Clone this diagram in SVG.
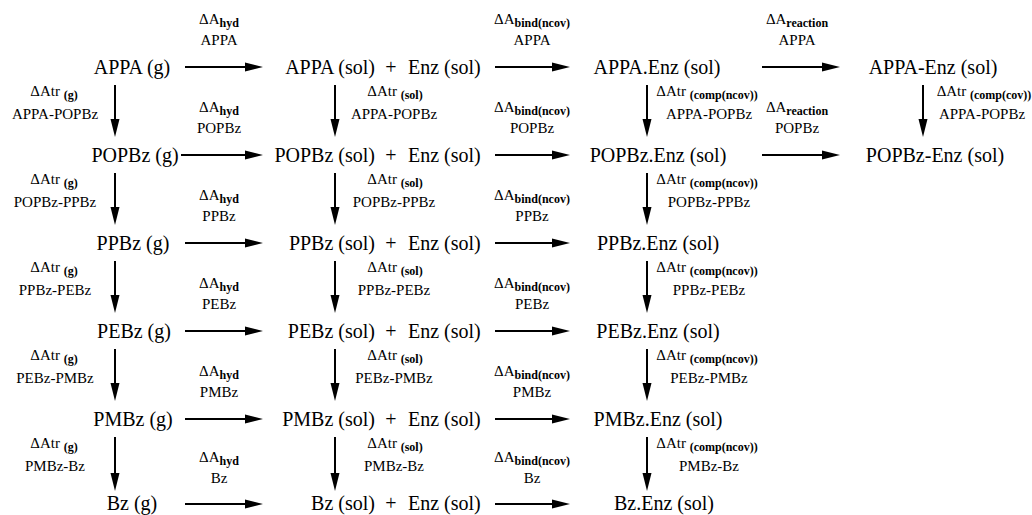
<svg xmlns="http://www.w3.org/2000/svg" width="1032" height="515" viewBox="0 0 1032 515">
<style>
.n{font-family:"Liberation Serif","Times New Roman",serif;font-size:20px;fill:#000}
.l{font-family:"Liberation Serif","Times New Roman",serif;font-size:15px;fill:#000;text-anchor:middle}
.s{font-size:12px;font-weight:bold}
.c line{stroke:#000;stroke-width:2;marker-end:url(#ah)}
</style>
<defs>
<marker id="ah" markerUnits="userSpaceOnUse" markerWidth="18" markerHeight="10" refX="8" refY="5" orient="auto">
<path d="M0,0.5 L18,5 L0,9.5 z" fill="#000"/>
</marker>
</defs>
<rect width="1032" height="515" fill="#fff"/>
<g id="connectors" class="c">
<line x1="185" y1="67" x2="253" y2="67"/>
<line x1="181" y1="155" x2="253" y2="155"/>
<line x1="185" y1="243" x2="253" y2="243"/>
<line x1="185" y1="331" x2="253" y2="331"/>
<line x1="185" y1="419" x2="253" y2="419"/>
<line x1="185" y1="504" x2="253" y2="504"/>
<line x1="495" y1="67" x2="560" y2="67"/>
<line x1="495" y1="155" x2="560" y2="155"/>
<line x1="495" y1="243" x2="560" y2="243"/>
<line x1="495" y1="331" x2="560" y2="331"/>
<line x1="495" y1="419" x2="560" y2="419"/>
<line x1="495" y1="504" x2="560" y2="504"/>
<line x1="762" y1="67" x2="830" y2="67"/>
<line x1="762" y1="155" x2="830" y2="155"/>
<line x1="115" y1="85" x2="115" y2="127"/>
<line x1="115" y1="173" x2="115" y2="215"/>
<line x1="115" y1="261" x2="115" y2="303"/>
<line x1="115" y1="349" x2="115" y2="391"/>
<line x1="115" y1="437" x2="115" y2="481"/>
<line x1="335" y1="85" x2="335" y2="127"/>
<line x1="335" y1="173" x2="335" y2="215"/>
<line x1="335" y1="261" x2="335" y2="303"/>
<line x1="335" y1="349" x2="335" y2="391"/>
<line x1="335" y1="437" x2="335" y2="481"/>
<line x1="647" y1="85" x2="647" y2="127"/>
<line x1="647" y1="173" x2="647" y2="215"/>
<line x1="647" y1="261" x2="647" y2="303"/>
<line x1="647" y1="349" x2="647" y2="391"/>
<line x1="647" y1="437" x2="647" y2="481"/>
<line x1="923" y1="85" x2="923" y2="127"/>
</g>
<g id="labels">
<text class="l" x="219" y="24">ΔA<tspan class="s" dy="3">hyd</tspan></text>
<text class="l" x="219" y="45">APPA</text>
<text class="l" x="219" y="112">ΔA<tspan class="s" dy="3">hyd</tspan></text>
<text class="l" x="219" y="133">POPBz</text>
<text class="l" x="219" y="200">ΔA<tspan class="s" dy="3">hyd</tspan></text>
<text class="l" x="219" y="221">PPBz</text>
<text class="l" x="219" y="288">ΔA<tspan class="s" dy="3">hyd</tspan></text>
<text class="l" x="219" y="309">PEBz</text>
<text class="l" x="219" y="376">ΔA<tspan class="s" dy="3">hyd</tspan></text>
<text class="l" x="219" y="397">PMBz</text>
<text class="l" x="219" y="462">ΔA<tspan class="s" dy="3">hyd</tspan></text>
<text class="l" x="219" y="483">Bz</text>

<text class="l" x="532" y="24">ΔA<tspan class="s" dy="3">bind(ncov)</tspan></text>
<text class="l" x="532" y="45">APPA</text>
<text class="l" x="532" y="112">ΔA<tspan class="s" dy="3">bind(ncov)</tspan></text>
<text class="l" x="532" y="133">POPBz</text>
<text class="l" x="532" y="200">ΔA<tspan class="s" dy="3">bind(ncov)</tspan></text>
<text class="l" x="532" y="221">PPBz</text>
<text class="l" x="532" y="288">ΔA<tspan class="s" dy="3">bind(ncov)</tspan></text>
<text class="l" x="532" y="309">PEBz</text>
<text class="l" x="532" y="376">ΔA<tspan class="s" dy="3">bind(ncov)</tspan></text>
<text class="l" x="532" y="397">PMBz</text>
<text class="l" x="532" y="462">ΔA<tspan class="s" dy="3">bind(ncov)</tspan></text>
<text class="l" x="532" y="483">Bz</text>

<text class="l" x="797" y="24">ΔA<tspan class="s" dy="3">reaction</tspan></text>
<text class="l" x="797" y="45">APPA</text>
<text class="l" x="797" y="112">ΔA<tspan class="s" dy="3">reaction</tspan></text>
<text class="l" x="797" y="133">POPBz</text>

<text class="l" x="54" y="96">ΔAtr <tspan class="s" dy="3">(g)</tspan></text>
<text class="l" x="55" y="119">APPA-POPBz</text>
<text class="l" x="54" y="184">ΔAtr <tspan class="s" dy="3">(g)</tspan></text>
<text class="l" x="55" y="207">POPBz-PPBz</text>
<text class="l" x="54" y="272">ΔAtr <tspan class="s" dy="3">(g)</tspan></text>
<text class="l" x="55" y="295">PPBz-PEBz</text>
<text class="l" x="54" y="360">ΔAtr <tspan class="s" dy="3">(g)</tspan></text>
<text class="l" x="55" y="383">PEBz-PMBz</text>
<text class="l" x="54" y="448">ΔAtr <tspan class="s" dy="3">(g)</tspan></text>
<text class="l" x="55" y="471">PMBz-Bz</text>

<text class="l" x="395" y="96">ΔAtr <tspan class="s" dy="3">(sol)</tspan></text>
<text class="l" x="394" y="119">APPA-POPBz</text>
<text class="l" x="395" y="184">ΔAtr <tspan class="s" dy="3">(sol)</tspan></text>
<text class="l" x="394" y="207">POPBz-PPBz</text>
<text class="l" x="395" y="272">ΔAtr <tspan class="s" dy="3">(sol)</tspan></text>
<text class="l" x="394" y="295">PPBz-PEBz</text>
<text class="l" x="395" y="360">ΔAtr <tspan class="s" dy="3">(sol)</tspan></text>
<text class="l" x="394" y="383">PEBz-PMBz</text>
<text class="l" x="395" y="448">ΔAtr <tspan class="s" dy="3">(sol)</tspan></text>
<text class="l" x="394" y="471">PMBz-Bz</text>

<text class="l" x="707" y="96">ΔAtr <tspan class="s" dy="3">(comp(ncov))</tspan></text>
<text class="l" x="709" y="119">APPA-POPBz</text>
<text class="l" x="707" y="184">ΔAtr <tspan class="s" dy="3">(comp(ncov))</tspan></text>
<text class="l" x="709" y="207">POPBz-PPBz</text>
<text class="l" x="707" y="272">ΔAtr <tspan class="s" dy="3">(comp(ncov))</tspan></text>
<text class="l" x="709" y="295">PPBz-PEBz</text>
<text class="l" x="707" y="360">ΔAtr <tspan class="s" dy="3">(comp(ncov))</tspan></text>
<text class="l" x="709" y="383">PEBz-PMBz</text>
<text class="l" x="707" y="448">ΔAtr <tspan class="s" dy="3">(comp(ncov))</tspan></text>
<text class="l" x="709" y="471">PMBz-Bz</text>

<text class="l" x="984" y="96">ΔAtr <tspan class="s" dy="3">(comp(cov))</tspan></text>
<text class="l" x="982" y="119">APPA-POPBz</text>
</g>
<g id="n-appa-g"><text class="n" x="132" y="74" text-anchor="middle">APPA (g)</text></g>
<g id="n-popbz-g"><text class="n" x="135" y="162" text-anchor="middle">POPBz (g)</text></g>
<g id="n-ppbz-g"><text class="n" x="133" y="250" text-anchor="middle">PPBz (g)</text></g>
<g id="n-pebz-g"><text class="n" x="134" y="338" text-anchor="middle">PEBz (g)</text></g>
<g id="n-pmbz-g"><text class="n" x="133" y="426" text-anchor="middle">PMBz (g)</text></g>
<g id="n-bz-g"><text class="n" x="132" y="510" text-anchor="middle">Bz (g)</text></g>

<g id="n-appa-sol"><text class="n" x="375" y="74" text-anchor="end">APPA (sol)</text><text class="n" x="391" y="74" text-anchor="middle">+</text><text class="n" x="408" y="74">Enz (sol)</text></g>
<g id="n-popbz-sol"><text class="n" x="375" y="162" text-anchor="end">POPBz (sol)</text><text class="n" x="391" y="162" text-anchor="middle">+</text><text class="n" x="408" y="162">Enz (sol)</text></g>
<g id="n-ppbz-sol"><text class="n" x="375" y="250" text-anchor="end">PPBz (sol)</text><text class="n" x="391" y="250" text-anchor="middle">+</text><text class="n" x="408" y="250">Enz (sol)</text></g>
<g id="n-pebz-sol"><text class="n" x="375" y="338" text-anchor="end">PEBz (sol)</text><text class="n" x="391" y="338" text-anchor="middle">+</text><text class="n" x="408" y="338">Enz (sol)</text></g>
<g id="n-pmbz-sol"><text class="n" x="375" y="426" text-anchor="end">PMBz (sol)</text><text class="n" x="391" y="426" text-anchor="middle">+</text><text class="n" x="408" y="426">Enz (sol)</text></g>
<g id="n-bz-sol"><text class="n" x="375" y="510" text-anchor="end">Bz (sol)</text><text class="n" x="391" y="510" text-anchor="middle">+</text><text class="n" x="408" y="510">Enz (sol)</text></g>

<g id="n-appa-enz"><text class="n" x="657" y="74" text-anchor="middle">APPA.Enz (sol)</text></g>
<g id="n-popbz-enz"><text class="n" x="658" y="162" text-anchor="middle">POPBz.Enz (sol)</text></g>
<g id="n-ppbz-enz"><text class="n" x="658" y="250" text-anchor="middle">PPBz.Enz (sol)</text></g>
<g id="n-pebz-enz"><text class="n" x="658" y="338" text-anchor="middle">PEBz.Enz (sol)</text></g>
<g id="n-pmbz-enz"><text class="n" x="658" y="426" text-anchor="middle">PMBz.Enz (sol)</text></g>
<g id="n-bz-enz"><text class="n" x="664" y="510" text-anchor="middle">Bz.Enz (sol)</text></g>

<g id="n-appa-cov"><text class="n" x="933" y="74" text-anchor="middle">APPA-Enz (sol)</text></g>
<g id="n-popbz-cov"><text class="n" x="935" y="162" text-anchor="middle">POPBz-Enz (sol)</text></g>
</svg>
